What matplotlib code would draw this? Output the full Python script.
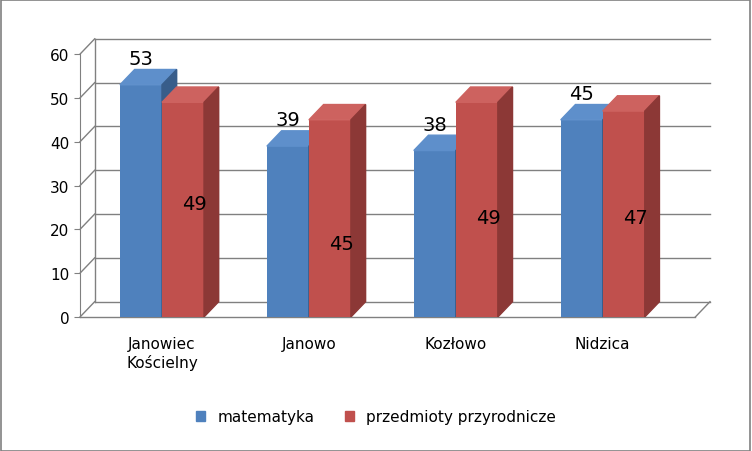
import matplotlib.pyplot as plt
from matplotlib.patches import Polygon, Rectangle
import numpy as np

categories = ["Janowiec\nKościelny", "Janowo", "Kozłowo", "Nidzica"]
matematyka = [53, 39, 38, 45]
przyroda = [49, 45, 49, 47]
przyroda_label_y = [26, 16.7, 22.8, 22.8]
yticks = [0, 10, 20, 30, 40, 50, 60]

blue, blue_top, blue_side = "#4F81BD", "#5E8FCB", "#385D8A"
red, red_top, red_side = "#C0504D", "#CD625F", "#8C3836"

fig = plt.figure(figsize=(7.52, 4.52), dpi=100)
fig.patches.append(Rectangle((0.001, 0.001), 0.997, 0.997, transform=fig.transFigure,
                             fill=False, edgecolor="#808080", lw=1.2))
ax = fig.add_axes([80 / 752, 1 - 318 / 452, 630 / 752, 276 / 452])
xmin, xmax = -0.558, 3.73
ax.set_xlim(xmin, xmax)
ax.set_ylim(0, 63)
dx, dy = 0.1, 3.5
w = 0.286

# back wall grid and left wall diagonals
for t in yticks:
    ax.plot([xmin + dx, xmax], [t + dy, t + dy], color="#808080", lw=1, zorder=0, clip_on=False)
    ax.plot([xmin, xmin + dx], [t, t + dy], color="#808080", lw=1, zorder=0, clip_on=False)
ax.plot([xmin + dx, xmin + dx], [dy, 60 + dy], color="#808080", lw=1, zorder=0, clip_on=False)
ax.plot([xmin, xmax - dx], [0, 0], color="#808080", lw=1, zorder=0, clip_on=False)
ax.plot([xmax - dx, xmax], [0, dy], color="#808080", lw=1, zorder=0, clip_on=False)

x = np.arange(len(categories))


def bar3d(xs, vals, front, top, side):
    ax.bar(xs, vals, w, color=front, zorder=2)
    for xi, v in zip(xs, vals):
        l, r = xi - w / 2, xi + w / 2
        ax.add_patch(Polygon([(l, v), (r, v), (r + dx, v + dy), (l + dx, v + dy)],
                             closed=True, color=top, zorder=2))
        ax.add_patch(Polygon([(r, 0), (r + dx, dy), (r + dx, v + dy), (r, v)],
                             closed=True, color=side, zorder=2))


bar3d(x - w / 2, matematyka, blue, blue_top, blue_side)
bar3d(x + w / 2, przyroda, red, red_top, red_side)

for xi, v in zip(x - w / 2, matematyka):
    ax.text(xi, v + 6, str(v), ha="center", va="center", fontsize=14, zorder=5)
for xi, v, ly in zip(x + w / 2, przyroda, przyroda_label_y):
    ax.text(xi + 0.08, ly, str(v), ha="center", va="center", fontsize=14, zorder=5)

for s in ["top", "right", "bottom"]:
    ax.spines[s].set_visible(False)
ax.spines["left"].set_bounds(0, 60)
ax.spines["left"].set_color("#808080")
ax.set_yticks(yticks)
ax.tick_params(axis="y", labelsize=11, length=4, color="#808080")
ax.set_xticks(x)
ax.set_xticklabels(categories, fontsize=11)
ax.tick_params(axis="x", length=0, pad=14)

handles = [Rectangle((0, 0), 1, 1, color=blue), Rectangle((0, 0), 1, 1, color=red)]
fig.legend(handles, ["matematyka", "przedmioty przyrodnicze"], loc="center",
           bbox_to_anchor=(0.5, 1 - 418 / 452), ncol=2, frameon=False, fontsize=11,
           handlelength=0.6, handleheight=0.6, columnspacing=2)

fig.savefig("out.png", dpi=100)
